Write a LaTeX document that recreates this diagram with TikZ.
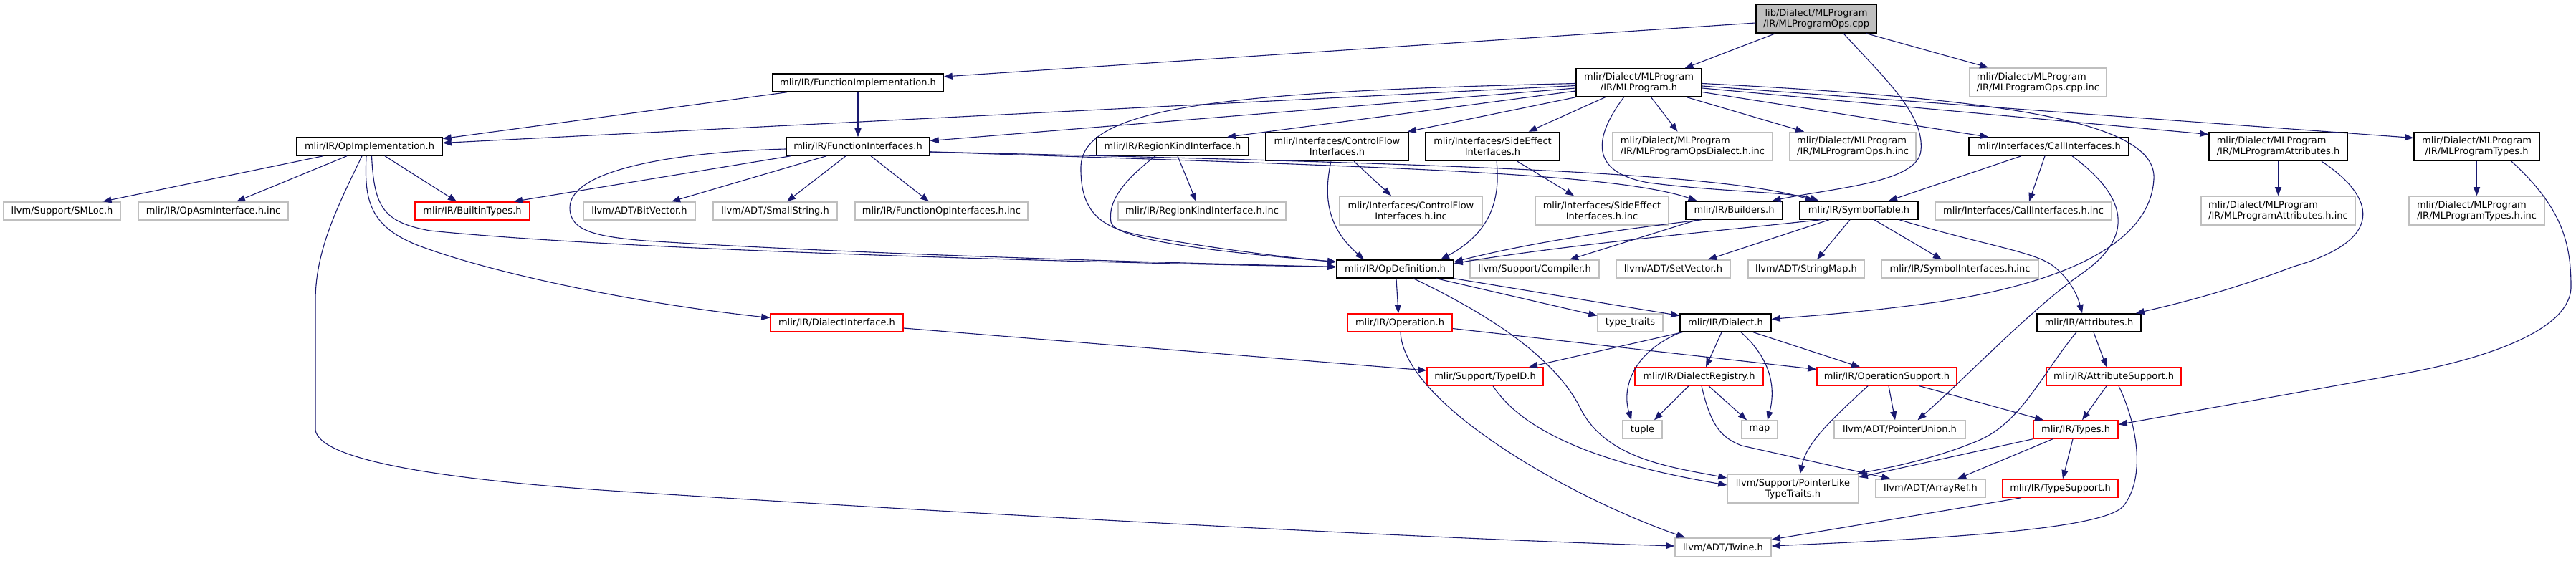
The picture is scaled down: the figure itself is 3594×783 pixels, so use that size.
\documentclass[tikz,border=0pt]{standalone}
\usepackage{fontspec}
\newfontfamily\dvs{DejaVu Sans}
\usetikzlibrary{arrows.meta,calc}
\definecolor{edgec}{HTML}{191970}
\definecolor{greyb}{HTML}{BFBFBF}
\begin{document}
\begin{tikzpicture}[x=1pt,y=-1pt,
  base/.style={inner sep=0pt, line width=1.5pt, fill=white, align=center, font={\dvs\fontsize{13}{15}\selectfont}},
  nb/.style={base, draw=black},
  ng/.style={base, draw=greyb},
  nr/.style={base, draw=red},
  e/.style={draw=edgec, line width=1.1pt, -{Triangle[length=12pt,width=9pt]}}]
\fill[white] (0,0) rectangle (3594,783);
\useasboundingbox (0,0) rectangle (3594,783);
% row 0
\node[nb, fill=greyb, minimum width=168pt, minimum height=40pt] (T) at (2534,26) {lib/Dialect/MLProgram\\/IR/MLProgramOps.cpp};
% row 1
\node[nb, minimum width=238pt, minimum height=25pt] (FImpl) at (1197,115.5) {mlir/IR/FunctionImplementation.h};
\node[nb, minimum width=175pt, minimum height=39pt] (M) at (2286.5,115.5) {mlir/Dialect/MLProgram\\/IR/MLProgram.h};
\node[ng, align=left, minimum width=191pt, minimum height=40pt] (OCI) at (2843.5,115) {mlir/Dialect/MLProgram\\/IR/MLProgramOps.cpp.inc};
% row 2
\node[nb, minimum width=203pt, minimum height=25pt] (OpImpl) at (515.5,204.5) {mlir/IR/OpImplementation.h};
\node[nb, minimum width=200pt, minimum height=25pt] (FInt) at (1197,204.5) {mlir/IR/FunctionInterfaces.h};
\node[nb, minimum width=212pt, minimum height=25pt] (RK) at (1636,204.5) {mlir/IR/RegionKindInterface.h};
\node[nb, minimum width=199pt, minimum height=40pt] (CF) at (1865.5,204.5) {mlir/Interfaces/ControlFlow\\Interfaces.h};
\node[nb, minimum width=187pt, minimum height=40pt] (SE) at (2082.5,204.5) {mlir/Interfaces/SideEffect\\Interfaces.h};
\node[ng, align=left, minimum width=223pt, minimum height=40pt] (ODI) at (2361.5,204.5) {mlir/Dialect/MLProgram\\/IR/MLProgramOpsDialect.h.inc};
\node[ng, align=left, minimum width=176pt, minimum height=40pt] (OHI) at (2585,204.5) {mlir/Dialect/MLProgram\\/IR/MLProgramOps.h.inc};
\node[nb, minimum width=223pt, minimum height=25pt] (CI) at (2858.5,204.5) {mlir/Interfaces/CallInterfaces.h};
\node[nb, align=left, minimum width=193pt, minimum height=40pt] (MA) at (3178.5,204.5) {mlir/Dialect/MLProgram\\/IR/MLProgramAttributes.h};
\node[nb, minimum width=175pt, minimum height=40pt] (MT) at (3455.5,204.5) {mlir/Dialect/MLProgram\\/IR/MLProgramTypes.h};
% row 3
\node[ng, minimum width=163pt, minimum height=25pt] (SML) at (86.5,294.5) {llvm/Support/SMLoc.h};
\node[ng, minimum width=209pt, minimum height=25pt] (OAI) at (297.5,294.5) {mlir/IR/OpAsmInterface.h.inc};
\node[nr, minimum width=160pt, minimum height=25pt] (BT) at (659,294.5) {mlir/IR/BuiltinTypes.h};
\node[ng, minimum width=156pt, minimum height=25pt] (BV) at (892,294.5) {llvm/ADT/BitVector.h};
\node[ng, minimum width=173pt, minimum height=25pt] (SS) at (1081.5,294.5) {llvm/ADT/SmallString.h};
\node[ng, minimum width=241pt, minimum height=25pt] (FOI) at (1313.5,294.5) {mlir/IR/FunctionOpInterfaces.h.inc};
\node[ng, minimum width=234pt, minimum height=25pt] (RKI) at (1677,294.5) {mlir/IR/RegionKindInterface.h.inc};
\node[ng, minimum width=199pt, minimum height=40pt] (CFI) at (1968.5,294) {mlir/Interfaces/ControlFlow\\Interfaces.h.inc};
\node[ng, minimum width=186pt, minimum height=40pt] (SEI) at (2235,294) {mlir/Interfaces/SideEffect\\Interfaces.h.inc};
\node[nb, minimum width=135pt, minimum height=25pt] (Bld) at (2419.5,293.5) {mlir/IR/Builders.h};
\node[nb, minimum width=165pt, minimum height=25pt] (ST) at (2593.5,293.5) {mlir/IR/SymbolTable.h};
\node[ng, minimum width=246pt, minimum height=25pt] (CII) at (2823,294.5) {mlir/Interfaces/CallInterfaces.h.inc};
\node[ng, align=left, minimum width=215pt, minimum height=40pt] (MAI) at (3178.5,294) {mlir/Dialect/MLProgram\\/IR/MLProgramAttributes.h.inc};
\node[ng, align=left, minimum width=189pt, minimum height=40pt] (MTI) at (3455.5,294) {mlir/Dialect/MLProgram\\/IR/MLProgramTypes.h.inc};
% row 4
\node[nb, minimum width=163pt, minimum height=25pt] (OD) at (1946.5,375.5) {mlir/IR/OpDefinition.h};
\node[ng, minimum width=180pt, minimum height=25pt] (Cmp) at (2141,375.5) {llvm/Support/Compiler.h};
\node[ng, minimum width=159pt, minimum height=25pt] (SV) at (2334.5,375.5) {llvm/ADT/SetVector.h};
\node[ng, minimum width=162pt, minimum height=25pt] (SM) at (2520,375.5) {llvm/ADT/StringMap.h};
\node[ng, minimum width=219pt, minimum height=25pt] (SII) at (2734.5,375.5) {mlir/IR/SymbolInterfaces.h.inc};
% row 5
\node[nr, minimum width=185pt, minimum height=25pt] (DI) at (1167.5,450.5) {mlir/IR/DialectInterface.h};
\node[nr, minimum width=146pt, minimum height=25pt] (Op) at (1953,450.5) {mlir/IR/Operation.h};
\node[ng, minimum width=91pt, minimum height=25pt] (TT) at (2274.5,450.5) {type\_traits};
\node[nb, minimum width=127pt, minimum height=25pt] (Dl) at (2407.5,450.5) {mlir/IR/Dialect.h};
\node[nb, minimum width=145pt, minimum height=25pt] (Attr) at (2914.5,450.5) {mlir/IR/Attributes.h};
% row 6
\node[nr, minimum width=162pt, minimum height=25pt] (TID) at (2072,525.5) {mlir/Support/TypeID.h};
\node[nr, minimum width=179pt, minimum height=25pt] (DR) at (2370.5,525.5) {mlir/IR/DialectRegistry.h};
\node[nr, minimum width=195pt, minimum height=25pt] (OS) at (2632.5,525.5) {mlir/IR/OperationSupport.h};
\node[nr, minimum width=188pt, minimum height=25pt] (AS) at (2949,525.5) {mlir/IR/AttributeSupport.h};
% row 7
\node[ng, minimum width=55pt, minimum height=25pt] (Tup) at (2291.5,599.5) {tuple};
\node[ng, minimum width=50pt, minimum height=25pt] (Map) at (2455,599.5) {map};
\node[ng, minimum width=183pt, minimum height=25pt] (PU) at (2650.5,599.5) {llvm/ADT/PointerUnion.h};
\node[nr, minimum width=118pt, minimum height=25pt] (Ty) at (2896,599.5) {mlir/IR/Types.h};
% row 8
\node[ng, minimum width=183pt, minimum height=40pt] (PL) at (2501.5,682) {llvm/Support/PointerLike\\TypeTraits.h};
\node[ng, minimum width=153pt, minimum height=25pt] (AR) at (2693.5,681.5) {llvm/ADT/ArrayRef.h};
\node[nr, minimum width=161pt, minimum height=25pt] (TS) at (2874.5,681.5) {mlir/IR/TypeSupport.h};
% row 9
\node[ng, minimum width=134pt, minimum height=26pt] (Tw) at (2404,764) {llvm/ADT/Twine.h};

% ---------- edges ----------
\draw[e] ($(T.west)+(0,6)$) -- ($(FImpl.east)+(0,-8.5)$);
\draw[e] ($(T.south)+(-57,0)$) -- ($(M.north)+(64,0)$);
\draw[e] ($(T.south)+(38,0)$) .. controls (2630,110) and (2685,160) .. (2680,210) .. controls (2676,255) and (2560,262) .. ($(Bld.north)+(53,0)$);
\draw[e] ($(T.south)+(70,0)$) -- ($(OCI.north)+(-69.5,0)$);
\draw[e] ($(FImpl.south)+(-99,0)$) -- ($(OpImpl.east)+(0,-11)$);
\draw[e] (FImpl) -- (FInt);
\draw[e] ($(M.west)+(0,4)$) -- ($(OpImpl.east)+(0,-5)$);
\draw[e] ($(M.west)+(0,7.5)$) -- ($(FInt.east)+(0,-8)$);
\draw[e] ($(M.west)+(0,11.5)$) -- ($(RK.north)+(76,0)$);
\draw[e] ($(M.west)+(0,1)$) .. controls (1700,128) and (1510,150) .. (1508,233) .. controls (1507,300) and (1540,320) .. (1600,330) .. controls (1700,348) and (1800,360) .. ($(OD.west)+(0,-10)$);
\draw[e] ($(RK.south)+(-24,0)$) .. controls (1570,250) and (1545,280) .. (1550,310) .. controls (1555,335) and (1700,352) .. ($(OD.west)+(0,-10)$);
\draw[e] ($(RK.south)+(7,0)$) -- ($(RKI.north)+(-8,0)$);
\draw[e] ($(OpImpl.south)+(3,0)$) .. controls (522,290) and (535,310) .. (600,322) .. controls (900,352) and (1600,368) .. ($(OD.west)+(0,-3)$);
\draw[e] ($(FInt.west)+(0,3.5)$) .. controls (950,212) and (795,235) .. (795,290) .. controls (795,322) and (830,330) .. (900,336) .. controls (1200,355) and (1600,366) .. ($(OD.west)+(0,-3)$);
\draw[e] ($(FInt.south west)+(7,0)$) -- ($(BT.north)+(58,0)$);
\draw[e] ($(FInt.south)+(-44,0)$) -- ($(BV.north)+(45,0)$);
\draw[e] ($(FInt.south)+(-17,0)$) -- ($(SS.north)+(16.5,0)$);
\draw[e] ($(FInt.south)+(18,0)$) -- ($(FOI.north)+(-17.5,0)$);
\draw[e] ($(FInt.east)+(0,7.5)$) .. controls (1900,232) and (2250,240) .. ($(Bld.north)+(-52,0)$);
\draw[e] ($(FInt.east)+(0,7.5)$) .. controls (2000,228) and (2400,240) .. ($(ST.north)+(-63,0)$);
\draw[e] ($(M.south)+(-21,0)$) .. controls (2225,190) and (2215,240) .. (2300,255) .. controls (2400,268) and (2500,268) .. ($(ST.north)+(-56,0)$);
\draw[e] (M.south west) -- ($(CF.north east)+(-2,0)$);
\draw[e] ($(M.south)+(-47,0)$) -- ($(SE.north)+(50,0)$);
\draw[e] ($(M.south)+(17,0)$) -- ($(ODI.north)+(-21,0)$);
\draw[e] ($(M.south)+(67,0)$) -- ($(OHI.north)+(-68,0)$);
\draw[e] ($(M.east)+(0,13)$) -- ($(CI.north)+(-84,0)$);
\draw[e] ($(M.east)+(0,7.5)$) -- ($(MA.west)+(0,-17)$);
\draw[e] ($(M.east)+(0,4.5)$) -- ($(MT.west)+(0,-12)$);
\draw[e] ($(M.east)+(0,1)$) .. controls (2800,138) and (3010,170) .. (3005,250) .. controls (3000,340) and (2880,395) .. (2700,422) .. controls (2600,436) and (2520,441) .. ($(Dl.east)+(0,-5)$);
\draw[e] ($(CF.south)+(23.5,0)$) -- ($(CFI.north)+(-27.5,0)$);
\draw[e] ($(CF.south)+(-8.5,0)$) .. controls (1845,280) and (1855,320) .. ($(OD.north)+(-43.5,0)$);
\draw[e] ($(SE.south)+(34.5,0)$) -- ($(SEI.north)+(-39,0)$);
\draw[e] ($(SE.south)+(5.5,0)$) .. controls (2095,290) and (2070,330) .. ($(OD.north)+(63.5,0)$);
\draw[e] ($(CI.south)+(-5.5,0)$) -- ($(CII.north)+(8,0)$);
\draw[e] ($(CI.south)+(-38.5,0)$) -- ($(ST.north)+(41.5,0)$);
\draw[e] ($(CI.south)+(32.5,0)$) .. controls (2975,280) and (2975,335) .. (2900,385) .. controls (2830,435) and (2740,530) .. ($(PU.north)+(25,0)$);
\draw[e] (MA) -- (MAI);
\draw[e] ($(MA.south)+(60.5,0)$) .. controls (3300,265) and (3345,330) .. (3200,372) .. controls (3100,410) and (3020,428) .. ($(Attr.north east)+(-8,0)$);
\draw[e] (MT) -- (MTI);
\draw[e] ($(MT.south)+(48.5,0)$) .. controls (3575,290) and (3587,340) .. (3587,400) .. controls (3587,470) and (3430,508) .. (3350,522) -- ($(Ty.east)+(0,-7)$);
\draw[e] ($(OpImpl.south)+(-64.5,0)$) -- ($(SML.north)+(57,0)$);
\draw[e] ($(OpImpl.south)+(-31.5,0)$) -- ($(OAI.north)+(32.5,0)$);
\draw[e] ($(OpImpl.south)+(21.5,0)$) -- ($(BT.north)+(-22,0)$);
\draw[e] ($(OpImpl.south)+(-10.5,0)$) .. controls (470,290) and (440,350) .. (440,420) -- (440,600) .. controls (445,640) and (600,670) .. (900,688) .. controls (1400,720) and (2000,752) .. ($(Tw.west)+(0,-2)$);
\draw[e] ($(OpImpl.south)+(-4.5,0)$) .. controls (508,280) and (515,318) .. (590,345) .. controls (700,385) and (900,425) .. ($(DI.west)+(0,-7)$);
\draw[e] ($(DI.east)+(0,7.5)$) -- ($(TID.west)+(0,-8.5)$);
\draw[e] ($(Bld.south)+(-45.5,0)$) .. controls (2280,318) and (2150,335) .. ($(OD.east)+(0,-10)$);
\draw[e] ($(Bld.south)+(-51.5,0)$) -- ($(Cmp.north)+(49,0)$);
\draw[e] ($(ST.south)+(-53.5,0)$) .. controls (2400,322) and (2200,340) .. ($(OD.east)+(0,-8)$);
\draw[e] ($(ST.south)+(-41.5,0)$) -- ($(SV.north)+(48.5,0)$);
\draw[e] ($(ST.south)+(-12.5,0)$) -- ($(SM.north)+(15,0)$);
\draw[e] ($(ST.south)+(21.5,0)$) -- ($(SII.north)+(-25.5,0)$);
\draw[e] ($(ST.south)+(56.5,0)$) .. controls (2760,340) and (2830,350) .. (2860,368) .. controls (2885,385) and (2898,410) .. ($(Attr.north)+(-9.5,0)$);
\draw[e] ($(OD.south)+(1.5,0)$) -- ($(Op.north)+(-2,0)$);
\draw[e] ($(OD.south)+(25.5,0)$) .. controls (2080,440) and (2170,500) .. (2205,570) .. controls (2240,640) and (2330,652) .. ($(PL.west)+(0,-15)$);
\draw[e] ($(OD.south)+(57.5,0)$) -- ($(TT.west)+(0,-10)$);
\draw[e] (OD.south east) -- ($(Dl.west)+(0,-10)$);
\draw[e] ($(Op.east)+(0,8)$) -- ($(OS.west)+(0,-10)$);
\draw[e] ($(Op.south)+(1,0)$) .. controls (1958,560) and (2180,690) .. ($(Tw.north)+(-53,0)$);
\draw[e] ($(Dl.south west)+(4,0)$) -- ($(TID.north)+(61,0)$);
\draw[e] ($(Dl.south west)+(2,0)$) .. controls (2280,490) and (2262,540) .. ($(Tup.north)+(-15.5,0)$);
\draw[e] ($(Dl.south)+(-5.5,0)$) -- ($(DR.north)+(9.5,0)$);
\draw[e] ($(Dl.south)+(21.5,0)$) .. controls (2470,500) and (2478,540) .. ($(Map.north)+(11,0)$);
\draw[e] ($(Dl.south)+(38.5,0)$) -- ($(OS.north)+(-37.5,0)$);
\draw[e] ($(DR.south)+(-14.5,0)$) -- ($(Tup.north)+(16.5,0)$);
\draw[e] ($(DR.south)+(13.5,0)$) -- ($(Map.north)+(-18,0)$);
\draw[e] ($(DR.south)+(3.5,0)$) .. controls (2388,600) and (2405,612) .. (2430,622) -- ($(AR.north west)+(21,0)$);
\draw[e] ($(TID.south)+(11,0)$) .. controls (2130,610) and (2250,650) .. ($(PL.west)+(0,-5)$);
\draw[e] ($(OS.south)+(-26.5,0)$) .. controls (2550,590) and (2520,620) .. ($(PL.north)+(10,0)$);
\draw[e] ($(OS.south)+(2.5,0)$) -- ($(PU.north)+(-6.5,0)$);
\draw[e] ($(OS.south)+(45.5,0)$) -- ($(Ty.north)+(-45,0)$);
\draw[e] ($(Attr.south)+(-17.5,0)$) .. controls (2850,520) and (2820,590) .. (2760,615) .. controls (2700,640) and (2640,652) .. ($(PL.north east)+(-3,0)$);
\draw[e] ($(Attr.south)+(6.5,0)$) -- ($(AS.north)+(-10,0)$);
\draw[e] ($(AS.south)+(-10,0)$) -- ($(Ty.north)+(9,0)$);
\draw[e] ($(AS.south)+(7,0)$) .. controls (2985,600) and (2992,670) .. (2962,707) .. controls (2930,740) and (2700,752) .. ($(Tw.east)+(0,-2)$);
\draw[e] (Ty.south west) -- ($(PL.east)+(0,-16)$);
\draw[e] ($(Ty.south)+(-32,0)$) -- ($(AR.north)+(37.5,0)$);
\draw[e] ($(Ty.south)+(-4,0)$) -- ($(TS.north)+(3.5,0)$);
\draw[e] ($(TS.south)+(-54.5,0)$) -- ($(Tw.east)+(0,-11)$);
\end{tikzpicture}
\end{document}
